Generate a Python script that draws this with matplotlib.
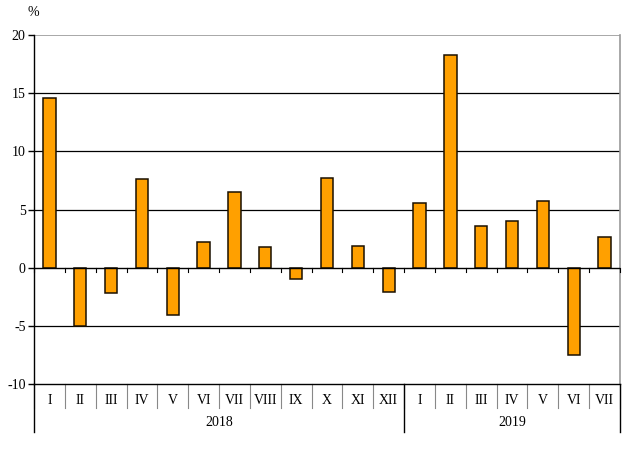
import matplotlib
matplotlib.use("Agg")
import matplotlib.pyplot as plt
import matplotlib.transforms as mtransforms

months = ["I", "II", "III", "IV", "V", "VI", "VII", "VIII", "IX", "X", "XI", "XII",
          "I", "II", "III", "IV", "V", "VI", "VII"]
years = ["2018", "2019"]
year_counts = [12, 7]
values = [14.6, -5.0, -2.15, 7.6, -4.1, 2.2, 6.5, 1.8, -1.0, 7.7, 1.9, -2.05,
          5.6, 18.3, 3.6, 4.0, 5.75, -7.5, 2.6]
yticks = [-10, -5, 0, 5, 10, 15, 20]

plt.rcParams['font.family'] = ['Liberation Serif', 'DejaVu Serif']
FS = 10

fig = plt.figure(figsize=(6.29, 4.5), dpi=100)
ax = fig.add_axes([34/629, 1-384/450, (620-34)/629, 349/450])

n = len(values)
x = list(range(n))
ax.bar(x, values, width=0.4, color='#FFA000', edgecolor='#1a1000', linewidth=1.1, zorder=3)

ax.set_xlim(-0.5, n - 0.5)
ax.set_ylim(-10, 20)
ax.set_yticks(yticks)
ax.set_yticklabels([str(v) for v in yticks], fontsize=FS)
ax.tick_params(axis='y', length=4, width=1, pad=2, direction='out')
ax.set_xticks([])

for v in [-5, 5, 10, 15]:
    ax.axhline(v, color='black', linewidth=0.9, zorder=1)
ax.axhline(20, color='#999999', linewidth=1.2, zorder=1)
ax.axhline(0, color='black', linewidth=1.0, zorder=4)
# small ticks on zero line
for b in range(n + 1):
    ax.plot([b - 0.5, b - 0.5], [0, -0.35], color='black', linewidth=0.8, zorder=4, clip_on=False)

ax.spines['top'].set_visible(False)
ax.spines['right'].set_color('#999999')
ax.spines['right'].set_linewidth(1.2)
ax.spines['left'].set_linewidth(1.0)
ax.spines['bottom'].set_linewidth(1.0)

trans = mtransforms.blended_transform_factory(ax.transData, ax.transAxes)
m_low = -24 / 349
y_low = -48 / 349
# month labels and separators
for i, m in enumerate(months):
    ax.text(i, -16 / 349, m, transform=trans, ha='center', va='center', fontsize=FS)
for b in range(n + 1):
    ax.plot([b - 0.5, b - 0.5], [0, m_low], transform=trans, color='#888888',
            linewidth=0.8, clip_on=False)
# year separators and labels
start = 0
bounds = [0]
for yr, c in zip(years, year_counts):
    ax.text(start + (c - 1) / 2, -39 / 349, yr, transform=trans, ha='center', va='center', fontsize=FS)
    start += c
    bounds.append(start)
for b in bounds:
    ax.plot([b - 0.5, b - 0.5], [0, y_low], transform=trans, color='black',
            linewidth=1.0, clip_on=False)

fig.text(33/629, 1 - 12/450, "%", ha='center', va='center', fontsize=FS)

fig.savefig("out.png", dpi=100)
